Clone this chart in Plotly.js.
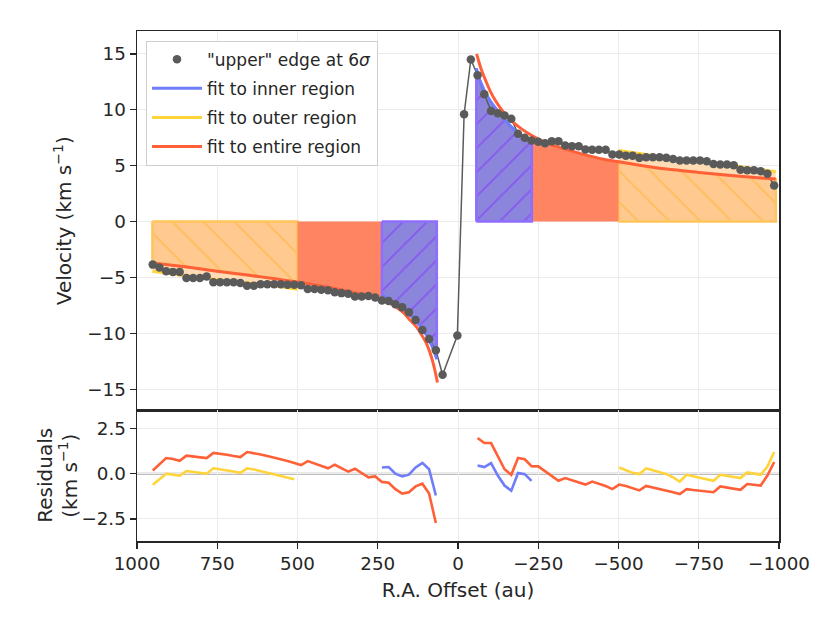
<!DOCTYPE html>
<html>
<head>
<meta charset="utf-8">
<script src="https://cdn.plot.ly/plotly-3.0.1.min.js"></script>
<style>
  html, body { margin: 0; padding: 0; background: #ffffff; }
  #chart { width: 830px; height: 623px; }
</style>
</head>
<body>
<div id="chart"></div>
<script>
// ---------------- data ----------------
// "upper" edge at 6 sigma (R.A. offset in au, velocity in km/s)
const edgeOffset = [951, 930, 909, 888, 867, 846, 825, 804, 783, 762, 741, 720, 699, 678, 657, 636, 615, 594, 573, 552, 531, 510, 489, 468, 447, 426, 405, 384, 363, 342, 321, 300, 279, 258, 237, 216, 195, 174, 153, 132, 111, 90, 69, 48, 2, -19, -40, -61, -82, -103, -124, -145, -166, -187, -208, -229, -250, -271, -292, -313, -334, -355, -376, -397, -418, -439, -460, -481, -502, -523, -544, -565, -586, -607, -628, -649, -670, -691, -712, -733, -754, -775, -796, -817, -838, -859, -880, -901, -922, -943, -964, -985];
const edgeVelocity = [-3.85, -4.1, -4.45, -4.5, -4.5, -5.04, -5.04, -5.04, -4.92, -5.43, -5.43, -5.43, -5.43, -5.5, -5.73, -5.73, -5.6, -5.6, -5.6, -5.6, -5.65, -5.65, -5.7, -6.03, -6.03, -6.1, -6.15, -6.33, -6.4, -6.45, -6.71, -6.71, -6.65, -6.8, -7.05, -7.1, -7.4, -7.67, -8.1, -8.8, -9.7, -10.5, -11.5, -13.7, -10.2, 9.6, 14.5, 13.1, 11.4, 9.9, 9.7, 9.5, 9.2, 7.85, 7.5, 7.25, 7.15, 7.0, 7.19, 7.19, 6.8, 6.74, 6.74, 6.45, 6.42, 6.42, 6.42, 6.0, 6.0, 5.9, 5.9, 5.7, 5.75, 5.75, 5.75, 5.7, 5.6, 5.46, 5.46, 5.46, 5.46, 5.4, 5.16, 5.1, 5.1, 5.05, 4.63, 4.6, 4.6, 4.5, 4.27, 3.22];

// fit to entire region (left / right of centre)
const entireFitLX = [952, 850, 750, 650, 575, 500, 450, 400, 350, 300, 260, 237, 210, 190, 170, 150, 130, 115, 100, 90, 80, 72, 64];
const entireFitLV = [-3.7, -4.05, -4.45, -4.8, -5.1, -5.4, -5.65, -5.9, -6.2, -6.5, -6.8, -7.0, -7.35, -7.7, -8.15, -8.8, -9.4, -10.05, -10.8, -11.5, -12.4, -13.3, -14.4];
const entireFitRX = [-58, -65, -72, -80, -90, -100, -115, -130, -150, -175, -200, -230, -260, -300, -350, -400, -450, -500, -575, -650, -750, -850, -990];
const entireFitRV = [15.0, 14.3, 13.65, 13.05, 12.35, 11.7, 10.9, 10.25, 9.5, 8.8, 8.25, 7.7, 7.25, 6.8, 6.35, 5.95, 5.6, 5.35, 5.0, 4.7, 4.4, 4.12, 3.8];

// fit to inner region
const innerFitLX = [237, 210, 190, 170, 150, 130, 110, 95, 80, 66];
const innerFitLV = [-6.6, -7.05, -7.45, -7.85, -8.35, -8.95, -9.6, -10.3, -11.2, -12.3];
const innerFitRX = [-57, -65, -75, -85, -100, -120, -140, -162, -190, -230];
const innerFitRV = [13.7, 12.9, 12.15, 11.55, 10.8, 10.0, 9.3, 8.6, 7.85, 7.0];

// fit to outer region
const outerFitLX = [952, 850, 750, 650, 575, 500];
const outerFitLV = [-4.45, -4.85, -5.2, -5.5, -5.75, -6.05];
const outerFitRX = [-500, -575, -650, -750, -858, -990];
const outerFitRV = [6.35, 6.05, 5.76, 5.4, 5.0, 4.45];

// region bounds (au)
const innerRegionL = [66, 237];
const outerRegionL = [500, 952];
const innerRegionR = [-57, -230];
const outerRegionR = [-500, -990];

// residuals
const resEntireLX = [951, 930, 909, 888, 867, 846, 825, 804, 783, 762, 741, 720, 699, 678, 657, 636, 615, 594, 573, 552, 531, 510, 489, 468, 447, 426, 405, 384, 363, 342, 321, 300, 279, 258, 237, 216, 195, 174, 153, 132, 111, 90, 69];
const resEntireLV = [0.18, 0.55, 0.87, 0.82, 0.72, 1.0, 0.97, 0.92, 0.87, 1.15, 1.12, 1.05, 0.98, 0.92, 1.2, 1.15, 1.07, 0.98, 0.9, 0.8, 0.7, 0.6, 0.48, 0.7, 0.58, 0.45, 0.3, 0.5, 0.33, 0.12, 0.28, 0.06, -0.2, -0.15, -0.45, -0.5, -0.85, -1.1, -1.02, -0.7, -0.55, -1.1, -2.72];
const resOuterLX = [951, 930, 909, 888, 867, 846, 825, 804, 783, 762, 741, 720, 699, 678, 657, 636, 615, 594, 573, 552, 531, 510];
const resOuterLV = [-0.61, -0.3, 0.0, -0.05, -0.11, 0.15, 0.1, 0.05, 0.0, 0.3, 0.25, 0.2, 0.12, 0.05, 0.3, 0.24, 0.15, 0.07, -0.02, -0.1, -0.2, -0.3];
const resInnerLX = [237, 216, 195, 174, 153, 132, 111, 90, 69];
const resInnerLV = [0.35, 0.37, 0.0, -0.15, -0.05, 0.35, 0.6, 0.25, -1.2];
const resEntireRX = [-61, -82, -103, -124, -145, -166, -187, -208, -229, -250, -271, -292, -313, -334, -355, -376, -397, -418, -439, -460, -481, -502, -523, -544, -565, -586, -607, -628, -649, -670, -691, -712, -733, -754, -775, -796, -817, -838, -859, -880, -901, -922, -943, -964, -985];
const resEntireRV = [1.98, 1.7, 1.7, 1.0, 0.25, -0.06, 0.87, 0.8, 0.42, 0.41, 0.15, -0.12, -0.39, -0.24, -0.36, -0.5, -0.6, -0.43, -0.55, -0.68, -0.85, -0.6, -0.68, -0.78, -0.92, -0.67, -0.75, -0.85, -0.93, -1.02, -1.12, -0.85, -0.9, -0.95, -1.0, -1.02, -0.7, -0.77, -0.83, -0.89, -0.57, -0.62, -0.65, -0.1, 0.65];
const resOuterRX = [-502, -523, -544, -565, -586, -607, -628, -649, -670, -691, -712, -733, -754, -775, -796, -817, -838, -859, -880, -901, -922, -943, -964, -985];
const resOuterRV = [0.35, 0.2, 0.05, -0.02, 0.3, 0.2, 0.1, -0.02, -0.2, -0.43, -0.06, -0.15, -0.25, -0.32, -0.39, -0.06, -0.12, -0.18, -0.24, 0.07, 0.0, -0.06, 0.4, 1.2];
const resInnerRX = [-61, -82, -103, -124, -145, -166, -187, -208, -229];
const resInnerRV = [0.46, 0.37, 0.59, -0.1, -0.65, -0.94, 0.04, -0.02, -0.39];

// tick labels
const xTickVals = [1000, 750, 500, 250, 0, -250, -500, -750, -1000];
const xTickText = ['1000', '750', '500', '250', '0', '\u2212250', '\u2212500', '\u2212750', '\u22121000'];
const vTickVals = [-15, -10, -5, 0, 5, 10, 15];
const rTickVals = [-2.5, 0, 2.5];

// ---------------- styling ----------------
const C_INNER = '#6f7dfa';
const C_OUTER = '#ffd43a';
const C_ENTIRE = '#ff6038';
const C_DATA = '#5a5a5a';
const FONT = 'DejaVu Sans, Verdana, sans-serif';
const INK = '#262626';
const TICK_SIZE = 18.3;
const TITLE_SIZE = 20;
const LEGEND_SIZE = 17;

// helpers: polygon between 0 and a curve, restricted to a region
function slice(xs, vs, bounds) {
  const lo = Math.min(bounds[0], bounds[1]), hi = Math.max(bounds[0], bounds[1]);
  const ox = [], ov = [];
  for (let i = 0; i < xs.length; i++) {
    if (xs[i] >= lo - 1e-9 && xs[i] <= hi + 1e-9) { ox.push(xs[i]); ov.push(vs[i]); }
  }
  return [ox, ov];
}
function polygon(xs, vs) {
  return {
    x: [xs[0]].concat(xs, [xs[xs.length - 1], xs[0]]),
    y: [0].concat(vs, [0, 0])
  };
}
function fillTrace(xs, vs, opts) {
  const p = polygon(xs, vs);
  const t = {
    x: p.x, y: p.y, xaxis: 'x', yaxis: 'y', type: 'scatter', mode: 'lines',
    fill: 'toself', fillcolor: opts.fill, hoverinfo: 'skip', showlegend: false,
    line: { color: opts.edge || opts.fill, width: opts.edgeWidth !== undefined ? opts.edgeWidth : 0 }
  };
  if (opts.pattern) t.fillpattern = opts.pattern;
  return t;
}

const traces = [];

const outerPattern = { shape: '\\', fgcolor: '#ffbd5a', bgcolor: '#ffc98f', size: 22, solidity: 0.08 };
const innerPattern = { shape: '/', fgcolor: '#8a56f2', bgcolor: '#8b85dc', size: 17, solidity: 0.1 };

// outer regions: light fill up to outer fit
[[outerFitLX, outerFitLV], [outerFitRX, outerFitRV]].forEach(function (c) {
  traces.push(fillTrace(c[0], c[1], { fill: '#ffdcb5' }));
});
// outer regions hatched up to entire fit
[[entireFitLX, entireFitLV, outerRegionL], [entireFitRX, entireFitRV, outerRegionR]].forEach(function (c) {
  const s = slice(c[0], c[1], c[2]);
  traces.push(fillTrace(s[0], s[1], { fill: '#ffc98f', edge: '#ffc55c', edgeWidth: 2.5, pattern: outerPattern }));
});
// middle regions solid
[[entireFitLX, entireFitLV, [innerRegionL[1], outerRegionL[0]]], [entireFitRX, entireFitRV, [innerRegionR[1], outerRegionR[0]]]].forEach(function (c) {
  const s = slice(c[0], c[1], c[2]);
  traces.push(fillTrace(s[0], s[1], { fill: '#ff8562' }));
});
// inner regions hatched up to inner fit
[[innerFitLX, innerFitLV], [innerFitRX, innerFitRV]].forEach(function (c) {
  traces.push(fillTrace(c[0], c[1], { fill: '#8b85dc', edge: '#8e6dff', edgeWidth: 2.5, pattern: innerPattern }));
});

// fits
function fitLine(xs, vs, color) {
  return { x: xs, y: vs, xaxis: 'x', yaxis: 'y', type: 'scatter', mode: 'lines',
    line: { color: color, width: 3, shape: 'spline', smoothing: 0.6 }, showlegend: false, hoverinfo: 'skip' };
}

// data line
traces.push({ x: edgeOffset, y: edgeVelocity, xaxis: 'x', yaxis: 'y', type: 'scatter', mode: 'lines',
  line: { color: C_DATA, width: 1.5 }, showlegend: false, hoverinfo: 'skip' });

traces.push(fitLine(innerFitLX, innerFitLV, C_INNER));
traces.push(fitLine(innerFitRX, innerFitRV, C_INNER));
traces.push(fitLine(outerFitLX, outerFitLV, C_OUTER));
traces.push(fitLine(outerFitRX, outerFitRV, C_OUTER));
traces.push(fitLine(entireFitLX, entireFitLV, C_ENTIRE));
traces.push(fitLine(entireFitRX, entireFitRV, C_ENTIRE));

// data dots (legend entry)
traces.push({ x: edgeOffset, y: edgeVelocity, xaxis: 'x', yaxis: 'y', type: 'scatter', mode: 'markers',
  marker: { color: C_DATA, size: 8.5 }, name: '"upper" edge at 6<i>σ</i>', showlegend: true,
  legendgroup: 'g0', hoverinfo: 'skip' });

// legend-only entries for the fits
[[C_INNER, 'fit to inner region', 'g1'], [C_OUTER, 'fit to outer region', 'g2'], [C_ENTIRE, 'fit to entire region', 'g3']].forEach(function (e) {
  traces.push({ x: [null], y: [null], xaxis: 'x', yaxis: 'y', type: 'scatter', mode: 'lines',
    line: { color: e[0], width: 3 }, name: e[1], showlegend: true, legendgroup: e[2], hoverinfo: 'skip' });
});

// residuals
function resLine(xs, vs, color) {
  return { x: xs, y: vs, xaxis: 'x2', yaxis: 'y2', type: 'scatter', mode: 'lines',
    line: { color: color, width: 2.6 }, showlegend: false, hoverinfo: 'skip' };
}
traces.push(resLine(resOuterLX, resOuterLV, C_OUTER));
traces.push(resLine(resOuterRX, resOuterRV, C_OUTER));
traces.push(resLine(resEntireLX, resEntireLV, C_ENTIRE));
traces.push(resLine(resEntireRX, resEntireRV, C_ENTIRE));
traces.push(resLine(resInnerLX, resInnerLV, C_INNER));
traces.push(resLine(resInnerRX, resInnerRV, C_INNER));

const split = 0.2559;
const gridColor = '#ebebeb';
const axisCommon = {
  showline: true, mirror: true, linecolor: INK, linewidth: 1.5,
  showgrid: true, gridcolor: gridColor, gridwidth: 1, zeroline: false,
  tickcolor: INK, tickwidth: 1.3, ticklen: 6,
  tickfont: { family: FONT, size: TICK_SIZE, color: INK }
};

const plotW = 830 - 137 - 51;
function paperX(px) { return (px - 137) / plotW; }

const layout = {
  width: 830, height: 623,
  margin: { l: 137, r: 51, t: 31, b: 82 },
  paper_bgcolor: '#ffffff', plot_bgcolor: '#ffffff',
  font: { family: FONT, size: TICK_SIZE, color: INK },
  showlegend: true,
  legend: {
    x: 0.014, y: 0.981, xanchor: 'left', yanchor: 'top',
    bgcolor: 'rgba(255,255,255,0.92)', bordercolor: '#cfcfcf', borderwidth: 1,
    font: { family: FONT, size: LEGEND_SIZE, color: INK },
    traceorder: 'grouped', tracegroupgap: 4, itemwidth: 50
  },
  xaxis: Object.assign({}, axisCommon, {
    domain: [0, 1], anchor: 'y', range: [1000, -1000], autorange: false,
    tickvals: xTickVals, ticktext: xTickText, showticklabels: false, ticks: ''
  }),
  yaxis: Object.assign({}, axisCommon, {
    domain: [split, 1], anchor: 'x', range: [-16.9, 17.05], autorange: false,
    tickvals: vTickVals, ticks: 'outside',
    title: { text: 'Velocity (km s<sup>\u22121</sup>)', font: { family: FONT, size: TITLE_SIZE, color: INK }, standoff: 10 }
  }),
  xaxis2: Object.assign({}, axisCommon, {
    domain: [0, 1], anchor: 'y2', range: [1000, -1000], autorange: false,
    tickvals: xTickVals, ticktext: xTickText, ticks: 'outside',
    title: { text: 'R.A. Offset (au)', font: { family: FONT, size: TITLE_SIZE, color: INK }, standoff: 9 }
  }),
  yaxis2: Object.assign({}, axisCommon, {
    domain: [0, split], anchor: 'x2', range: [-3.72, 3.5], autorange: false,
    tickvals: rTickVals, tickformat: '.1f', ticks: 'outside'
  }),
  annotations: [
    { text: 'Residuals', xref: 'paper', yref: 'paper', x: paperX(45), y: split / 2,
      xanchor: 'center', yanchor: 'middle', textangle: -90, showarrow: false,
      font: { family: FONT, size: TITLE_SIZE, color: INK } },
    { text: '(km s<sup>\u22121</sup>)', xref: 'paper', yref: 'paper', x: paperX(68), y: split / 2,
      xanchor: 'center', yanchor: 'middle', textangle: -90, showarrow: false,
      font: { family: FONT, size: TITLE_SIZE, color: INK } }
  ],
  shapes: [{
    type: 'line', xref: 'x2 domain', yref: 'y2', x0: 0, x1: 1, y0: 0, y1: 0,
    line: { color: '#a8a8a8', width: 2.2 }, layer: 'below'
  }]
};

Plotly.newPlot('chart', traces, layout, { staticPlot: true, displayModeBar: false });
</script>
</body>
</html>
